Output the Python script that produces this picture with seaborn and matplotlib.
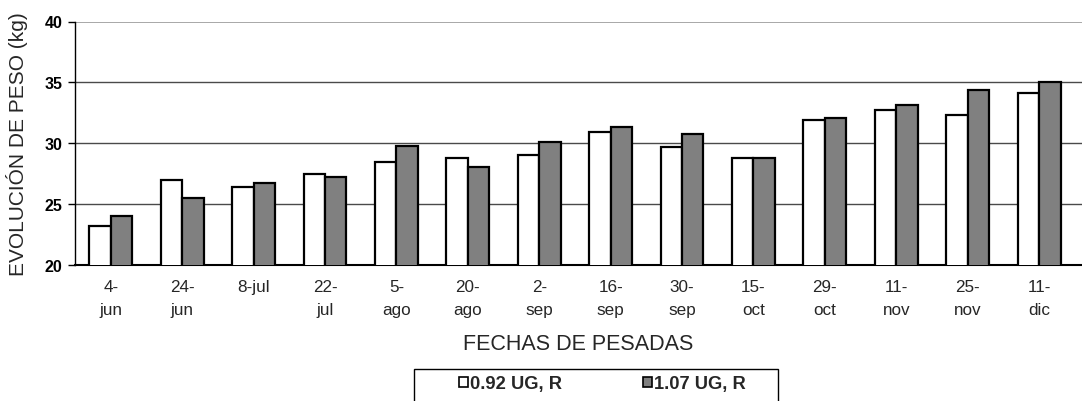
import matplotlib
matplotlib.use("Agg")
import matplotlib.pyplot as plt
from matplotlib.patches import Patch, Rectangle
import seaborn as sns
import pandas as pd

# Weighing dates and mean live weight (kg) for each stocking rate
fechas = ["4-\njun", "24-\njun", "8-jul", "22-\njul", "5-\nago", "20-\nago", "2-\nsep",
          "16-\nsep", "30-\nsep", "15-\noct", "29-\noct", "11-\nnov", "25-\nnov", "11-\ndic"]
peso_092 = [23.2, 27.0, 26.4, 27.5, 28.5, 28.8, 29.0, 30.9, 29.7, 28.8, 31.9, 32.7, 32.35, 34.1]
peso_107 = [24.0, 25.5, 26.75, 27.2, 29.8, 28.05, 30.1, 31.35, 30.8, 28.8, 32.1, 33.15, 34.4, 35.0]
series = ["0.92 UG, R", "1.07 UG, R"]
colores = {"0.92 UG, R": "#ffffff", "1.07 UG, R": "#808080"}
y_ticks = [20, 25, 30, 35, 40]

df = pd.DataFrame({
    "fecha": fechas * 2,
    "peso": peso_092 + peso_107,
    "serie": [series[0]] * len(fechas) + [series[1]] * len(fechas),
})

sns.set_style("white")
plt.rcParams["font.family"] = ["Liberation Sans", "DejaVu Sans"]

fig = plt.figure(figsize=(10.82, 4.02), dpi=100)
ax = fig.add_axes([75 / 1082, 136 / 402, 1 - 75 / 1082, (379.5 - 136) / 402])

sns.barplot(data=df, x="fecha", y="peso", hue="serie", order=fechas, hue_order=series,
            palette=colores, edgecolor="black", linewidth=1.6, width=0.6,
            legend=False, ax=ax, zorder=3)

ax.set_ylim(20, 40)
ax.set_xlim(-0.5, 13.6)
ax.set_yticks(y_ticks)
ax.set_yticklabels([str(v) for v in y_ticks], fontsize=11.5, fontweight="bold")
ax.tick_params(axis="y", direction="out", length=5, width=1, pad=4, left=True, colors="black")
ax.tick_params(axis="x", length=0, pad=10, labelsize=12.3)
for lbl in ax.get_xticklabels():
    lbl.set_linespacing(1.7)

# Horizontal gridlines; the top one is lighter
for v in y_ticks[1:]:
    ax.axhline(v, color="#9a9a9a" if v == 40 else "#4a4a4a", lw=1.2 if v == 40 else 1.0, zorder=1)

for side in ["top", "right"]:
    ax.spines[side].set_visible(False)
ax.spines["left"].set_color("black")
ax.spines["left"].set_linewidth(1.0)
ax.spines["bottom"].set_color("black")
ax.spines["bottom"].set_linewidth(1.5)

ax.set_xlabel("FECHAS DE PESADAS", fontsize=15.5, labelpad=11)
ax.set_ylabel("EVOLUCIÓN DE PESO (kg)", fontsize=15, labelpad=12)

# Legend inside a plain rectangular box below the axis title
handles = [Patch(facecolor=colores[s], edgecolor="black", linewidth=1.2, label=s) for s in series]
fig.legend(handles=handles, loc="center left", bbox_to_anchor=(450 / 1082, 1 - 385 / 402),
           ncol=2, frameon=False, handlelength=0.5, handleheight=0.5, handletextpad=0.1,
           columnspacing=4.4, prop={"size": 13.2, "weight": "bold"}, borderpad=0)
fig.patches.append(Rectangle((414 / 1082, -0.01), (778 - 414) / 1082, (402 - 370) / 402 + 0.01,
                             transform=fig.transFigure, fill=False, edgecolor="black", lw=1.0))

fig.savefig("out.png", dpi=100)
